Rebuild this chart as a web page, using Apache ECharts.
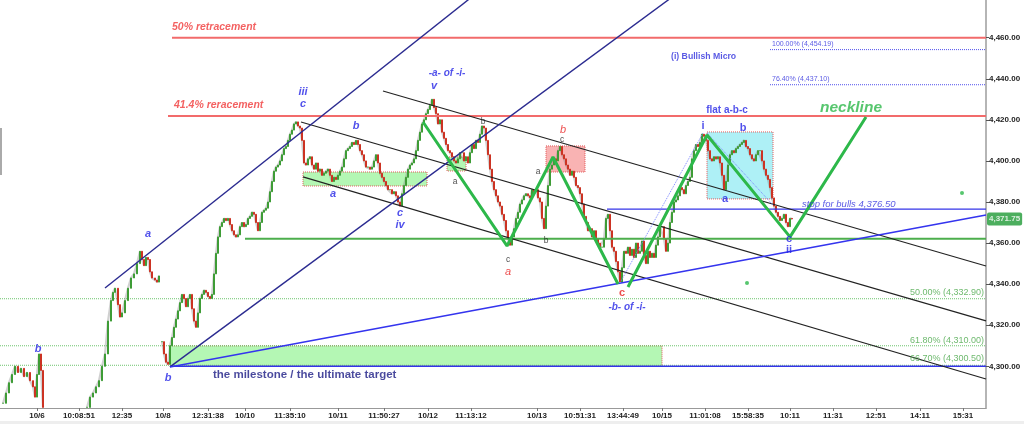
<!DOCTYPE html>
<html><head><meta charset="utf-8">
<script src="https://cdn.jsdelivr.net/npm/echarts@6/dist/echarts.min.js"></script>
<style>html,body{margin:0;padding:0;background:#fff}#c{width:1024px;height:424px}</style>
</head><body><div id="c"></div>
<script>
// ---- axis ticks ----
const xTickPos = [37,79,122,163,208,245,290,338,384,428,471,537,580,623,662,705,748,790,833,876,920,963];
const xTickLabels = ['10/6','10:08:51','12:35','10/8','12:31:38','10/10','11:35:10','10/11','11:50:27','10/12','11:13:12','10/13','10:51:31','13:44:49','10/15','11:01:08','15:58:35','10:11','11:31','12:51','14:11','15:31'];
const yTicks = [4300,4320,4340,4360,4380,4400,4420,4440,4460];
const yRange = [4279.7, 4478.35];
const xRange = [0, 986];

// ---- price sessions: [time index, close] ----
const session1 = [[3,4282],[6,4287],[9,4292],[12,4296],[15,4300],[18,4297],[21,4299],[24,4295],[27,4297],[30,4293],[33,4290],[35,4285],[37,4296],[39,4306],[41,4298],[43,4280]];
const session2 = [[87,4280],[90,4285],[93,4287],[96,4290],[99,4293],[102,4300],[105,4306],[108,4322],[111,4332],[113,4336],[115,4338],[118,4330],[120,4324],[122,4326],[125,4332],[128,4338],[131,4343],[134,4345],[137,4350],[140,4356],[142,4352],[144,4349],[146,4353],[148,4352],[150,4346],[152,4343],[155,4342],[157,4341],[159,4344]];
const session3 = [[162,4312],[164,4306],[166,4302],[168,4301],[170,4310],[172,4314],[174,4319],[176,4323],[178,4327],[180,4331],[182,4335],[184,4333],[186,4329],[188,4333],[190,4335],[192,4328],[194,4322],[196,4319],[198,4326],[200,4333],[202,4335],[204,4337],[206,4336],[208,4334],[210,4333],[212,4335],[214,4345],[216,4355],[218,4363],[220,4368],[222,4370],[224,4372],[226,4371],[228,4372],[230,4369],[232,4366],[234,4364],[236,4363],[238,4364],[240,4368],[242,4370],[244,4368],[246,4369],[248,4372],[250,4373],[252,4375],[254,4374],[256,4370],[258,4366],[260,4370],[262,4375],[264,4376],[266,4377],[268,4380],[270,4385],[272,4390],[274,4395],[276,4397],[278,4398],[280,4400],[282,4403],[284,4406],[286,4407],[288,4410],[290,4413],[292,4415],[294,4418],[296,4419],[298,4417],[300,4416],[302,4410],[304,4399],[306,4398],[308,4401],[310,4402],[312,4398],[314,4396],[316,4399],[318,4395],[320,4396],[322,4393],[324,4394],[326,4395],[328,4396],[330,4393],[332,4390],[334,4392],[336,4391],[338,4393],[340,4395],[342,4397],[344,4401],[346,4405],[348,4406],[350,4407],[352,4409],[354,4408],[356,4410],[358,4408],[360,4405],[362,4403],[364,4400],[366,4397],[368,4397],[370,4396],[372,4397],[374,4400],[376,4403],[378,4399],[380,4394],[382,4392],[384,4390],[386,4388],[388,4386],[390,4386],[392,4384],[394,4385],[396,4383],[398,4380],[400,4378],[402,4384],[404,4388],[406,4392],[408,4396],[410,4398],[412,4399],[414,4401],[416,4405],[418,4410],[420,4414],[422,4418],[424,4420],[426,4423],[428,4425],[430,4427],[432,4430],[434,4426],[436,4423],[438,4418],[440,4420],[442,4414],[444,4411],[446,4408],[448,4405],[450,4404],[452,4402],[454,4400],[456,4399],[458,4401],[460,4404],[462,4404],[464,4400],[466,4402],[468,4399],[470,4404],[472,4408],[474,4406],[476,4410],[478,4409],[480,4413],[482,4417],[484,4416],[486,4410],[488,4403],[490,4396],[492,4390],[494,4386],[496,4383],[498,4380],[500,4378],[502,4374],[504,4371],[506,4366],[508,4362],[510,4359],[512,4363],[514,4367],[516,4372],[518,4375],[520,4379],[522,4381],[524,4383],[526,4384],[528,4383],[530,4382],[532,4386],[534,4385],[536,4386],[538,4382],[540,4380],[542,4372],[544,4367],[546,4378],[548,4388],[550,4396],[552,4398],[554,4401],[556,4400],[558,4405],[560,4407],[562,4403],[564,4401],[566,4398],[568,4396],[570,4393],[572,4395],[574,4392],[576,4388],[578,4387],[580,4384],[582,4379],[584,4373],[586,4370],[588,4366],[590,4367],[592,4363],[594,4366],[596,4362],[598,4360],[600,4358],[602,4358],[604,4362],[606,4372],[608,4374],[610,4366],[612,4358],[614,4356],[616,4351],[618,4346],[620,4341],[622,4348],[624,4356],[626,4355],[628,4358],[630,4354],[632,4357],[634,4353],[636,4360],[638,4355],[640,4356],[642,4361],[644,4354],[646,4350],[648,4356],[650,4353],[652,4355],[654,4353],[656,4359],[658,4363],[660,4368],[662,4368],[664,4362],[666,4356],[668,4360],[670,4370],[672,4375],[674,4380],[676,4381],[678,4383],[680,4387],[682,4386],[684,4384],[686,4388],[688,4390],[690,4392],[692,4401],[694,4405],[696,4408],[698,4407],[700,4409],[702,4413],[704,4412],[706,4410],[708,4405],[710,4401],[712,4400],[714,4402],[716,4401],[718,4402],[720,4399],[722,4393],[724,4386],[726,4390],[728,4398],[730,4403],[732,4405],[734,4404],[736,4406],[738,4407],[740,4408],[742,4409],[744,4410],[746,4407],[748,4406],[750,4403],[752,4401],[754,4400],[756,4403],[758,4405],[760,4405],[762,4400],[764,4396],[766,4393],[768,4391],[770,4387],[772,4382],[774,4378],[776,4375],[778,4373],[780,4371],[782,4372],[784,4374],[786,4370],[788,4368],[790,4372],[792,4371.75]];
const lastPrice = 4371.75;

// ---- overlay levels: [x1, x2, price] ----
const redLevels = [[172,986,4460],[168,986,4421.9]];
const fibBlueLevels = [[770,986,4454.19],[770,986,4437.10]];
const fibGreenLevels = [[0,986,4332.9],[0,986,4310.0],[0,986,4300.5]];
const greenLevel = [245,986,4362.1];
const milestoneLevel = [170,986,4300];
const stopLevel = [607,986,4376.5];
// ---- trend lines: [[x,price],[x,price]] ----
const channelLines = [[[383,4434.05],[986,4348.85]],[[301,4418.96],[986,4322.1]],[[303,4392.2],[986,4293.8]]];
const navyLines = [[[105,4338.1],[480,4483.0]],[[170,4299.7],[680,4482.6]]];
const blueTrend = [[170,4299.7],[986,4373.7]];
const dottedTrends = [[[620,4340.6],[703,4413.6]],[[707,4413.6],[773,4378.5]]];
const zigzag1 = [[423,4418.96],[507,4358.6],[553,4401.9],[618,4340.1]];
const zigzag2 = [[628,4338.6],[707,4412.6],[790,4363],[866,4421.4]];
// ---- boxes: [x1, x2, priceLow, priceHigh, kind] ----
const boxes = [[170,662,4300,4310,'green'],[303,427,4387.8,4394.6,'green'],[447,466,4395.1,4401.9,'green'],[546,585,4394.6,4407.3,'pink'],[707,773,4381.5,4414.1,'cyan']];
const dots = [[747,4340.6],[962,4384.4]];
// ---- annotations: [x, price, text, style, anchor] ----
const notes = [
 [172,4465.2,'50% retracement','red','l'],
 [174,4427.2,'41.4% reracement','red','l'],
 [303,4433.5,'iii','wave','c'],[303,4427.7,'c','wave','c'],
 [356,4417.0,'b','wave','c'],[333,4383.9,'a','wave','c'],
 [400,4374.7,'c','wave','c'],[400,4368.9,'iv','wave','c'],
 [447,4442.8,'-a- of -i-','waveT','c'],[434,4436.5,'v','wave','c'],
 [483,4419.0,'b','blk','c'],[455,4389.7,'a','blk','c'],
 [508,4351.8,'c','blk','c'],[508,4345.9,'a','redW','c'],
 [546,4361.0,'b','blk','c'],[538,4394.6,'a','blk','c'],[562,4410.2,'c','blk','c'],
 [563,4415.1,'b','redW','c'],[622,4335.7,'c','redC','c'],
 [627,4328.9,'-b- of -i-','waveT','c'],
 [38,4308.4,'b','wave','c'],[148,4364.4,'a','wave','c'],[168,4294.3,'b','wave','c'],
 [213,4295.8,'the milestone / the ultimate target','navy','l'],
 [671,4450.6,'(i) Bullish Micro','micro','l'],
 [727,4424.7,'flat a-b-c','flat','c'],
 [851,4425.7,'neckline','neck','c'],
 [703,4417.0,'i','wave2','c'],[743,4416.0,'b','wave2','c'],[725,4381.4,'a','wave2','c'],
 [789,4362.0,'c','wave2','c'],[789,4356.6,'ii','wave2','c'],
 [802,4379.0,'stop for bulls 4,376.50','stop','l'],
 [772,4456.9,'100.00% (4,454.19)','fibB','l'],
 [772,4439.9,'76.40% (4,437.10)','fibB','l'],
 [984,4335.7,'50.00% (4,332.90)','fibG','r'],
 [984,4312.8,'61.80% (4,310.00)','fibG','r'],
 [984,4303.6,'66.70% (4,300.50)','fibG','r']
];

const FONT = '"Liberation Sans", Arial, sans-serif';
const noteStyles = {
 red:{color:'#f03a3a',fontStyle:'italic',fontWeight:'bold',fontSize:10.5},
 wave:{color:'#2626e6',fontStyle:'italic',fontWeight:'bold',fontSize:11},
 wave2:{color:'#2626e6',fontWeight:'bold',fontSize:11},
 waveT:{color:'#2626e6',fontStyle:'italic',fontWeight:'bold',fontSize:10},
 blk:{color:'#222',fontSize:8.5},
 redW:{color:'#e82222',fontStyle:'italic',fontSize:11},
 redC:{color:'#e82222',fontWeight:'bold',fontSize:11},
 navy:{color:'#1c1c84',fontWeight:'bold',fontSize:11.5},
 micro:{color:'#3030dd',fontWeight:'bold',fontSize:8.7},
 flat:{color:'#2626e6',fontWeight:'bold',fontSize:10},
 neck:{color:'#2db84a',fontStyle:'italic',fontWeight:'bold',fontSize:15.5},
 stop:{color:'#3030dd',fontStyle:'italic',fontSize:9.5},
 fibB:{color:'#3030dd',fontSize:7},
 fibG:{color:'#4aa84a',fontSize:9}
};
const boxStyles = {
 green:{color:'#b4f7b4',borderColor:'#e05a5a',borderType:'dotted',borderWidth:1},
 pink:{color:'#f9b3b3',borderColor:'#e05a5a',borderType:'dotted',borderWidth:1},
 cyan:{color:'#aef0f6',borderColor:'#e05a5a',borderType:'dotted',borderWidth:1}
};

function candles(session){
  const out = [];
  for(let i=0;i<session.length;i++){
    const c = session[i][1];
    const o = i>0 ? session[i-1][1] : c;
    out.push([session[i][0], o, c, Math.min(o,c), Math.max(o,c)]);
  }
  return out;
}
function lineSeries(pts, color, width, type, z){
  return {type:'line', data:pts, symbol:'none', silent:true, animation:false, z:z||4,
    lineStyle:{color:color, width:width, type:type||'solid'}};
}
function hLevel(l){ return [[l[0],l[2]],[l[1],l[2]]]; }

const series = [];
// boxes
series.push({type:'line', data:[[0,null]], symbol:'none', silent:true, z:1,
  markArea:{silent:true, data: boxes.map(b=>[{coord:[b[0],b[3]], itemStyle:boxStyles[b[4]]},{coord:[b[1],b[2]]}])}});
fibGreenLevels.forEach(l=>series.push(lineSeries(hLevel(l),'#6cc46c',1,'dotted',2)));
fibBlueLevels.forEach(l=>series.push(lineSeries(hLevel(l),'#5050ee',1,'dotted',2)));
// price
[session1,session2,session3].forEach(s=>{
  series.push(lineSeries(s,'rgba(120,120,120,0.35)',2.2,'solid',2));
  series.push({type:'candlestick', data:candles(s), encode:{x:0,y:[1,2,3,4]}, barWidth:2, z:3, silent:true, animation:false,
    itemStyle:{color:'#3e9c36',color0:'#cc3323',borderColor:'#3e9c36',borderColor0:'#cc3323',borderWidth:1}});
});
redLevels.forEach(l=>series.push(lineSeries(hLevel(l),'#f26b6b',2,'solid',4)));
series.push(lineSeries(hLevel(greenLevel),'#4cae4c',2,'solid',4));
series.push(lineSeries(hLevel(milestoneLevel),'#3434e8',1.6,'solid',4));
series.push(lineSeries(hLevel(stopLevel),'#3434e8',1.3,'solid',4));
channelLines.forEach(l=>series.push(lineSeries(l,'#222',1.2,'solid',4)));
navyLines.forEach(l=>series.push(lineSeries(l,'#2b2b90',1.4,'solid',4)));
series.push(lineSeries(blueTrend,'#3434ee',1.6,'solid',4));
dottedTrends.forEach(l=>series.push(lineSeries(l,'#7b86ff',1,'dotted',4)));
series.push(lineSeries(zigzag1,'#2db84a',3,'solid',5));
series.push(lineSeries(zigzag2,'#2db84a',3,'solid',5));
series.push({type:'scatter', data:dots, symbolSize:4, itemStyle:{color:'#2db84a'}, silent:true, z:5});
// annotations
series.push({type:'scatter', symbolSize:0, silent:true, z:6, animation:false,
  data: notes.map(n=>({value:[n[0],n[1]], label:Object.assign({show:true, formatter:n[2], fontFamily:FONT,
    position: n[4]==='l'?'right':(n[4]==='r'?'left':'inside'), distance:0, align: n[4]==='l'?'left':(n[4]==='r'?'right':'center'), verticalAlign:'middle'}, noteStyles[n[3]])}))});
// price badge
series.push({type:'scatter', symbolSize:0, silent:true, z:7, clip:false,
  data:[{value:[xRange[1],lastPrice], label:{show:true, position:'right', distance:1, formatter:lastPrice.toLocaleString('en-US',{minimumFractionDigits:2}),
    color:'#fff', fontWeight:'bold', fontSize:8, fontFamily:FONT, backgroundColor:'#1f9a36', padding:[3,2,2,2], borderRadius:2}}]});

const option = {
  animation:false,
  backgroundColor:'#fff',
  grid:{left:0, right:38, top:0, bottom:16, containLabel:false},
  xAxis:{type:'value', min:xRange[0], max:xRange[1], splitLine:{show:false},
    axisLine:{show:true, onZero:false, lineStyle:{color:'#999', width:1}},
    axisTick:{show:true, customValues:xTickPos, length:3, lineStyle:{color:'#777'}},
    axisLabel:{customValues:xTickPos, formatter:v=>xTickLabels[xTickPos.indexOf(v)], fontSize:8, fontWeight:'bold', color:'#222', fontFamily:FONT, margin:4}},
  yAxis:{type:'value', position:'right', min:yRange[0], max:yRange[1], scale:true, splitLine:{show:false},
    axisLine:{show:true, onZero:false, lineStyle:{color:'#b5b5b5', width:2}},
    axisTick:{show:true, customValues:yTicks, length:3, lineStyle:{color:'#555'}},
    axisLabel:{customValues:yTicks, formatter:v=>v.toLocaleString('en-US',{minimumFractionDigits:2}), fontSize:8, fontWeight:'bold', color:'#222', fontFamily:FONT, margin:3}},
  graphic:[
    {type:'rect', shape:{x:0,y:128,width:2,height:47}, style:{fill:'#aaa'}},
    {type:'rect', shape:{x:0,y:421,width:1024,height:3}, style:{fill:'#eeeeee'}}
  ],
  series:series
};
const chart = echarts.init(document.getElementById('c'), null, {renderer:'canvas'});
chart.setOption(option);
</script></body></html>
